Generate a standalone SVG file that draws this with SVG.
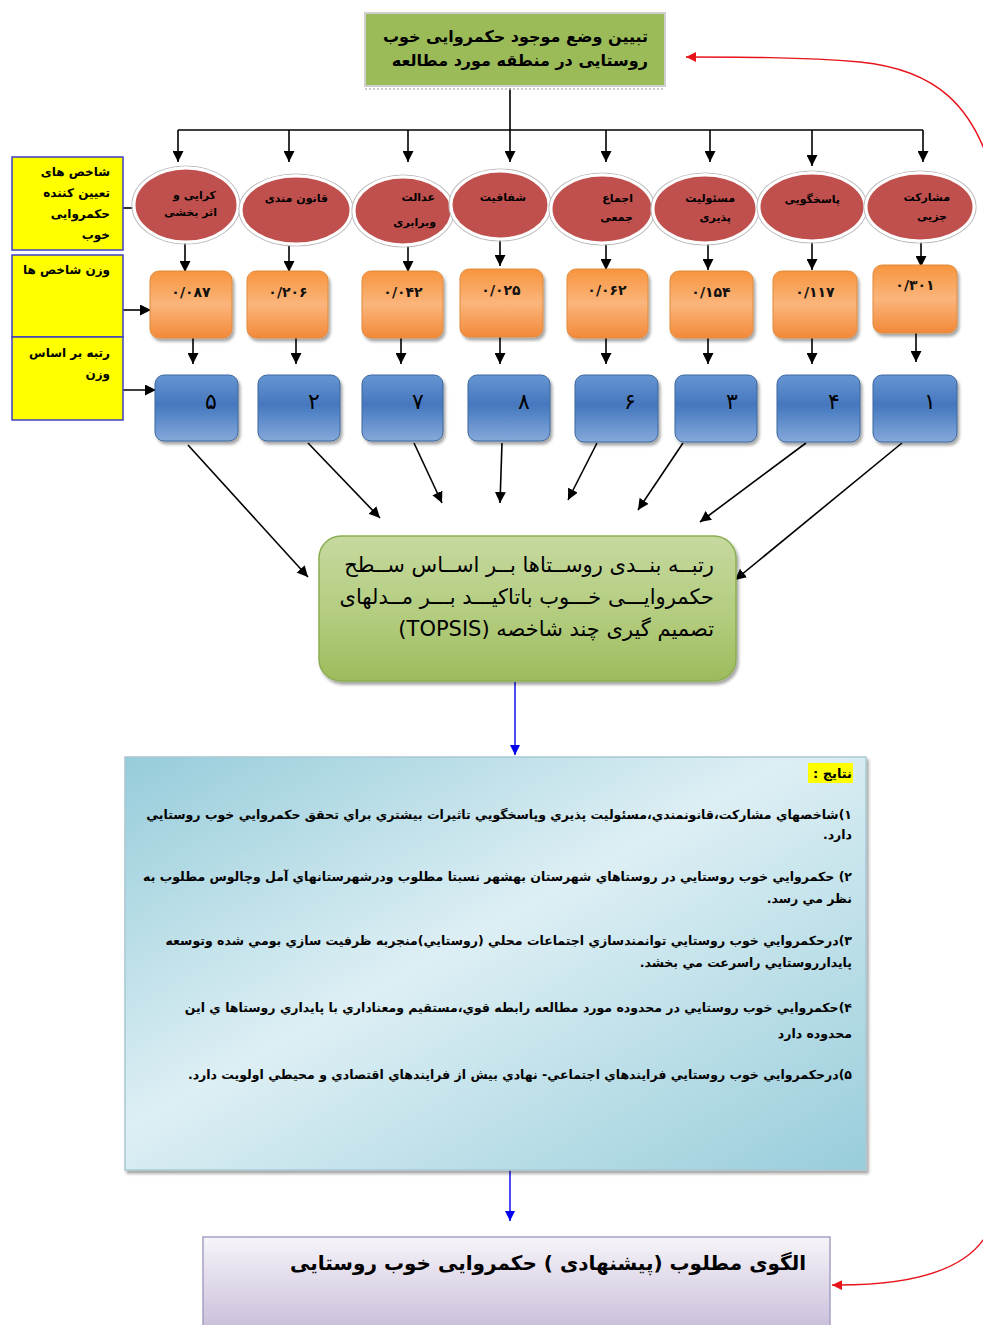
<svg xmlns="http://www.w3.org/2000/svg" width="983" height="1325" viewBox="0 0 983 1325">
<defs>
<style>
.fa{font-family:"DejaVu Sans","Noto Sans",sans-serif;font-weight:bold;fill:#000}
.rtl{direction:rtl;text-anchor:start}
.ln{stroke:#000;stroke-width:1.6;fill:none}
.ell{fill:#C0504D;stroke:#fff;stroke-width:3}
.ellb{fill:none;stroke:#bdbdbd;stroke-width:1.2}
.org{fill:url(#gOrg);stroke:#E08A3C;stroke-width:1}
.blu{fill:url(#gBlu);stroke:#3C679E;stroke-width:1}
.yel{fill:#FFFF00;stroke:#3F3FBF;stroke-width:1.5}
.num{font-family:"DejaVu Sans",sans-serif;fill:#000}
.onum{font-family:"DejaVu Sans",sans-serif;font-weight:bold;fill:#111}
</style>
<marker id="ah" viewBox="0 0 10 10" refX="10" refY="5" markerWidth="11" markerHeight="11" markerUnits="userSpaceOnUse" orient="auto"><path d="M0,0L10,5L0,10z" fill="#000"/></marker>
<marker id="ahb" viewBox="0 0 10 10" refX="10" refY="5" markerWidth="10" markerHeight="10" markerUnits="userSpaceOnUse" orient="auto"><path d="M0,0L10,5L0,10z" fill="#0000EE"/></marker>
<marker id="ahr" viewBox="0 0 10 10" refX="10" refY="5" markerWidth="10" markerHeight="10" markerUnits="userSpaceOnUse" orient="auto"><path d="M0,0L10,5L0,10z" fill="#E8141B"/></marker>
<linearGradient id="gOrg" x1="0" y1="0" x2="0" y2="1"><stop offset="0" stop-color="#F7953F"/><stop offset="0.5" stop-color="#FBB57B"/><stop offset="1" stop-color="#F2893A"/></linearGradient>
<linearGradient id="gBlu" x1="0" y1="0" x2="0" y2="1"><stop offset="0" stop-color="#6695D2"/><stop offset="0.45" stop-color="#4677BE"/><stop offset="0.55" stop-color="#4F81C4"/><stop offset="1" stop-color="#86A9DA"/></linearGradient>
<linearGradient id="gGrn" x1="0" y1="0" x2="0" y2="1"><stop offset="0" stop-color="#C6D99F"/><stop offset="0.6" stop-color="#B1CB7B"/><stop offset="1" stop-color="#9DBB5C"/></linearGradient>
<linearGradient id="gRes" x1="0" y1="0" x2="1" y2="1"><stop offset="0" stop-color="#96CCDA"/><stop offset="0.45" stop-color="#DDEFF4"/><stop offset="1" stop-color="#98CDDB"/></linearGradient>
<linearGradient id="gPur" x1="0" y1="0" x2="0" y2="1"><stop offset="0" stop-color="#F6F4F9"/><stop offset="1" stop-color="#C9BDD9"/></linearGradient>
<filter id="sh" x="-10%" y="-10%" width="125%" height="130%"><feDropShadow dx="2" dy="3" stdDeviation="1.5" flood-color="#000" flood-opacity="0.35"/></filter>
</defs>
<rect width="983" height="1325" fill="#fff"/>

<g id="connectors">
<line class="ln" x1="510" y1="88" x2="510" y2="130"/>
<line class="ln" x1="178" y1="130" x2="923" y2="130"/>
<line class="ln" x1="178" y1="130" x2="178" y2="162" marker-end="url(#ah)"/>
<line class="ln" x1="289" y1="130" x2="289" y2="162" marker-end="url(#ah)"/>
<line class="ln" x1="408" y1="130" x2="408" y2="162" marker-end="url(#ah)"/>
<line class="ln" x1="510" y1="130" x2="510" y2="162" marker-end="url(#ah)"/>
<line class="ln" x1="606" y1="130" x2="606" y2="162" marker-end="url(#ah)"/>
<line class="ln" x1="710" y1="130" x2="710" y2="162" marker-end="url(#ah)"/>
<line class="ln" x1="812" y1="130" x2="812" y2="166" marker-end="url(#ah)"/>
<line class="ln" x1="923" y1="130" x2="923" y2="162" marker-end="url(#ah)"/>

<line class="ln" x1="185" y1="242" x2="185" y2="272" marker-end="url(#ah)"/>
<line class="ln" x1="289" y1="244" x2="289" y2="272" marker-end="url(#ah)"/>
<line class="ln" x1="408" y1="246" x2="408" y2="272" marker-end="url(#ah)"/>
<line class="ln" x1="500" y1="240" x2="500" y2="266" marker-end="url(#ah)"/>
<line class="ln" x1="606" y1="244" x2="606" y2="270" marker-end="url(#ah)"/>
<line class="ln" x1="708" y1="244" x2="708" y2="270" marker-end="url(#ah)"/>
<line class="ln" x1="812" y1="242" x2="812" y2="270" marker-end="url(#ah)"/>
<line class="ln" x1="921" y1="242" x2="921" y2="267" marker-end="url(#ah)"/>

<line class="ln" x1="193" y1="338" x2="193" y2="364" marker-end="url(#ah)"/>
<line class="ln" x1="296" y1="338" x2="296" y2="364" marker-end="url(#ah)"/>
<line class="ln" x1="401" y1="338" x2="401" y2="364" marker-end="url(#ah)"/>
<line class="ln" x1="500" y1="337" x2="500" y2="364" marker-end="url(#ah)"/>
<line class="ln" x1="606" y1="338" x2="606" y2="364" marker-end="url(#ah)"/>
<line class="ln" x1="708" y1="338" x2="708" y2="364" marker-end="url(#ah)"/>
<line class="ln" x1="812" y1="338" x2="812" y2="364" marker-end="url(#ah)"/>
<line class="ln" x1="916" y1="333" x2="916" y2="362" marker-end="url(#ah)"/>

<line class="ln" x1="123" y1="208" x2="150" y2="208" marker-end="url(#ah)"/>
<line class="ln" x1="123" y1="310" x2="151" y2="310" marker-end="url(#ah)"/>
<line class="ln" x1="123" y1="390" x2="156" y2="390" marker-end="url(#ah)"/>

<line class="ln" x1="188" y1="445" x2="308" y2="577" marker-end="url(#ah)"/>
<line class="ln" x1="308" y1="443" x2="380" y2="518" marker-end="url(#ah)"/>
<line class="ln" x1="414" y1="443" x2="442" y2="503" marker-end="url(#ah)"/>
<line class="ln" x1="502" y1="443" x2="500" y2="503" marker-end="url(#ah)"/>
<line class="ln" x1="597" y1="443" x2="568" y2="500" marker-end="url(#ah)"/>
<line class="ln" x1="683" y1="443" x2="638" y2="510" marker-end="url(#ah)"/>
<line class="ln" x1="806" y1="443" x2="700" y2="522" marker-end="url(#ah)"/>
<line class="ln" x1="902" y1="443" x2="735" y2="580" marker-end="url(#ah)"/>

<line x1="515" y1="682" x2="515" y2="755" stroke="#0000EE" stroke-width="1.4" marker-end="url(#ahb)"/>
<line x1="510" y1="1170" x2="510" y2="1221" stroke="#0000EE" stroke-width="1.4" marker-end="url(#ahb)"/>

<path d="M990,165 C972,110 940,70 860,62 C800,57 740,57 686,57" fill="none" stroke="#E8141B" stroke-width="1.4" marker-end="url(#ahr)"/>
<path d="M990,1228 C975,1262 930,1286 832,1285" fill="none" stroke="#E8141B" stroke-width="1.4" marker-end="url(#ahr)"/>
</g>

<g id="n-top">
<rect x="365" y="13" width="300" height="73" fill="#9BBB59" stroke="#cfcfcf" stroke-width="2"/>
<line x1="365" y1="89" x2="665" y2="89" stroke="#bbb" stroke-width="1.5" stroke-dasharray="2,2"/>
<text class="fa rtl" x="648" y="42" font-size="16">تبیین وضع موجود حکمروایی خوب</text>
<text class="fa rtl" x="648" y="66" font-size="16">روستایی در منطقه مورد مطالعه</text>
</g>

<g id="n-y1">
<rect class="yel" x="12" y="157" width="111" height="93"/>
<text class="fa rtl" x="110" y="176" font-size="12">شاخص های</text>
<text class="fa rtl" x="110" y="197" font-size="12">تعیین کننده</text>
<text class="fa rtl" x="110" y="218" font-size="12">حکمروایی</text>
<text class="fa rtl" x="110" y="239" font-size="12">خوب</text>
</g>
<g id="n-y2">
<rect class="yel" x="12" y="255" width="111" height="82"/>
<text class="fa rtl" x="110" y="274" font-size="12">وزن شاخص ها</text>
</g>
<g id="n-y3">
<rect class="yel" x="12" y="337" width="111" height="83"/>
<text class="fa rtl" x="110" y="357" font-size="12">رتبه بر اساس</text>
<text class="fa rtl" x="110" y="378" font-size="12">وزن</text>
</g>

<g id="n-e1"><ellipse class="ellb" cx="186" cy="205" rx="54" ry="39"/><ellipse class="ell" cx="186" cy="205" rx="52" ry="37"/>
<text class="fa rtl" x="216" y="199" font-size="11">کرایی و</text><text class="fa rtl" x="217" y="216" font-size="11">اثر بخشی</text></g>
<g id="n-e2"><ellipse class="ellb" cx="296" cy="210" rx="57" ry="36"/><ellipse class="ell" cx="296" cy="210" rx="55" ry="34"/>
<text class="fa rtl" x="328" y="202" font-size="11">قانون مندی</text></g>
<g id="n-e3"><ellipse class="ellb" cx="403" cy="211" rx="51" ry="36"/><ellipse class="ell" cx="403" cy="211" rx="49" ry="34"/>
<text class="fa rtl" x="435" y="201" font-size="11">عدالت</text><text class="fa rtl" x="436" y="226" font-size="11">وبرابری</text></g>
<g id="n-e4"><ellipse class="ellb" cx="500" cy="205" rx="51" ry="36"/><ellipse class="ell" cx="500" cy="205" rx="49" ry="34"/>
<text class="fa rtl" x="526" y="201" font-size="11">شفافیت</text></g>
<g id="n-e5"><ellipse class="ellb" cx="602" cy="209" rx="53" ry="36"/><ellipse class="ell" cx="602" cy="209" rx="51" ry="34"/>
<text class="fa rtl" x="633" y="202" font-size="11">اجماع</text><text class="fa rtl" x="633" y="221" font-size="11">جمعی</text></g>
<g id="n-e6"><ellipse class="ellb" cx="705" cy="209" rx="54" ry="36"/><ellipse class="ell" cx="705" cy="209" rx="52" ry="34"/>
<text class="fa rtl" x="735" y="202" font-size="11">مسئولیت</text><text class="fa rtl" x="731" y="221" font-size="11">پذیری</text></g>
<g id="n-e7"><ellipse class="ellb" cx="812" cy="207" rx="55" ry="36"/><ellipse class="ell" cx="812" cy="207" rx="53" ry="34"/>
<text class="fa rtl" x="840" y="203" font-size="11">پاسخگویی</text></g>
<g id="n-e8"><ellipse class="ellb" cx="920" cy="207" rx="56" ry="36"/><ellipse class="ell" cx="920" cy="207" rx="54" ry="34"/>
<text class="fa rtl" x="950" y="201" font-size="11">مشارکت</text><text class="fa rtl" x="947" y="220" font-size="11">جزیی</text></g>

<g id="n-o1"><rect class="org" x="150" y="271" width="82" height="67" rx="9" filter="url(#sh)"/><text class="onum" x="191" y="297" font-size="14" text-anchor="middle">۰/۰۸۷</text></g>
<g id="n-o2"><rect class="org" x="247" y="271" width="81" height="67" rx="9" filter="url(#sh)"/><text class="onum" x="288" y="297" font-size="14" text-anchor="middle">۰/۲۰۶</text></g>
<g id="n-o3"><rect class="org" x="362" y="271" width="81" height="67" rx="9" filter="url(#sh)"/><text class="onum" x="403" y="297" font-size="14" text-anchor="middle">۰/۰۴۲</text></g>
<g id="n-o4"><rect class="org" x="460" y="269" width="83" height="68" rx="9" filter="url(#sh)"/><text class="onum" x="501" y="295" font-size="14" text-anchor="middle">۰/۰۲۵</text></g>
<g id="n-o5"><rect class="org" x="567" y="269" width="81" height="69" rx="9" filter="url(#sh)"/><text class="onum" x="607" y="295" font-size="14" text-anchor="middle">۰/۰۶۲</text></g>
<g id="n-o6"><rect class="org" x="670" y="271" width="83" height="67" rx="9" filter="url(#sh)"/><text class="onum" x="711" y="297" font-size="14" text-anchor="middle">۰/۱۵۴</text></g>
<g id="n-o7"><rect class="org" x="773" y="271" width="84" height="67" rx="9" filter="url(#sh)"/><text class="onum" x="815" y="297" font-size="14" text-anchor="middle">۰/۱۱۷</text></g>
<g id="n-o8"><rect class="org" x="873" y="265" width="84" height="68" rx="9" filter="url(#sh)"/><text class="onum" x="915" y="290" font-size="14" text-anchor="middle">۰/۳۰۱</text></g>

<g id="n-b1"><rect class="blu" x="155" y="375" width="83" height="66" rx="9" filter="url(#sh)"/><text class="num" x="211" y="409" font-size="22" text-anchor="middle">۵</text></g>
<g id="n-b2"><rect class="blu" x="258" y="375" width="82" height="66" rx="9" filter="url(#sh)"/><text class="num" x="314" y="409" font-size="22" text-anchor="middle">۲</text></g>
<g id="n-b3"><rect class="blu" x="362" y="375" width="81" height="66" rx="9" filter="url(#sh)"/><text class="num" x="418" y="409" font-size="22" text-anchor="middle">۷</text></g>
<g id="n-b4"><rect class="blu" x="468" y="375" width="82" height="66" rx="9" filter="url(#sh)"/><text class="num" x="524" y="409" font-size="22" text-anchor="middle">۸</text></g>
<g id="n-b5"><rect class="blu" x="575" y="375" width="83" height="67" rx="9" filter="url(#sh)"/><text class="num" x="630" y="409" font-size="22" text-anchor="middle">۶</text></g>
<g id="n-b6"><rect class="blu" x="675" y="375" width="82" height="67" rx="9" filter="url(#sh)"/><text class="num" x="732" y="409" font-size="22" text-anchor="middle">۳</text></g>
<g id="n-b7"><rect class="blu" x="777" y="375" width="83" height="67" rx="9" filter="url(#sh)"/><text class="num" x="834" y="409" font-size="22" text-anchor="middle">۴</text></g>
<g id="n-b8"><rect class="blu" x="873" y="375" width="84" height="67" rx="9" filter="url(#sh)"/><text class="num" x="930" y="409" font-size="22" text-anchor="middle">۱</text></g>

<g id="n-center">
<rect x="319" y="536" width="417" height="145" rx="22" fill="url(#gGrn)" stroke="#8CAE52" stroke-width="1.5" filter="url(#sh)"/>
<text class="rtl" x="714" y="572" font-size="21" font-family="DejaVu Sans,sans-serif" fill="#000">رتبــه بنــدی روســتاها بــر اســاس ســطح</text>
<text class="rtl" x="714" y="604" font-size="21" font-family="DejaVu Sans,sans-serif" fill="#000">حکمروایـــی خـــوب باتاکیـــد بـــر مــدلهای</text>
<text class="rtl" x="714" y="636" font-size="21" font-family="DejaVu Sans,sans-serif" fill="#000">تصمیم گیری چند شاخصه (TOPSIS)</text>
</g>

<g id="n-results">
<rect x="125" y="757" width="741" height="413" fill="url(#gRes)" stroke="#A9C7D3" stroke-width="1.5" filter="url(#sh)"/>
<rect x="808" y="763" width="45" height="20" fill="#FFFF00"/>
<text class="fa rtl" x="852" y="778" font-size="13">نتایج :</text>
<text class="fa rtl" x="852" y="819" font-size="12.5">۱)شاخصهاي مشاركت،قانونمندي،مسئوليت پذيري وپاسخگويي تاثيرات بيشتري براي تحقق حكمروايي خوب روستايي</text>
<text class="fa rtl" x="852" y="839" font-size="12.5">دارد.</text>
<text class="fa rtl" x="852" y="881" font-size="12.5">۲) حكمروايي خوب روستايي در روستاهاي شهرستان بهشهر نسبتا مطلوب ودرشهرستانهاي آمل وچالوس مطلوب به</text>
<text class="fa rtl" x="852" y="903" font-size="12.5">نظر مي رسد.</text>
<text class="fa rtl" x="852" y="945" font-size="12.5">۳)درحكمروايي خوب روستايي توانمندسازي اجتماعات محلي (روستايي)منجربه ظرفيت سازي بومي شده وتوسعه</text>
<text class="fa rtl" x="852" y="967" font-size="12.5">پايدارروستايي راسرعت مي بخشد.</text>
<text class="fa rtl" x="852" y="1012" font-size="12.5">۴)حكمروايي خوب روستايي در محدوده مورد مطالعه رابطه قوي،مستقيم ومعناداري با پايداري روستاها ي اين</text>
<text class="fa rtl" x="852" y="1038" font-size="12.5">محدوده دارد</text>
<text class="fa rtl" x="852" y="1079" font-size="12.5">۵)درحكمروايي خوب روستايي فرايندهاي اجتماعي- نهادي بيش از فرايندهاي اقتصادي و محيطي اولويت دارد.</text>
</g>

<g id="n-bottom">
<rect x="203" y="1237" width="627" height="95" fill="url(#gPur)" stroke="#A7A0C2" stroke-width="1.5"/>
<text class="fa rtl" x="806" y="1270" font-size="20">الگوی مطلوب (پیشنهادی ) حکمروایی خوب روستایی</text>
</g>
</svg>
